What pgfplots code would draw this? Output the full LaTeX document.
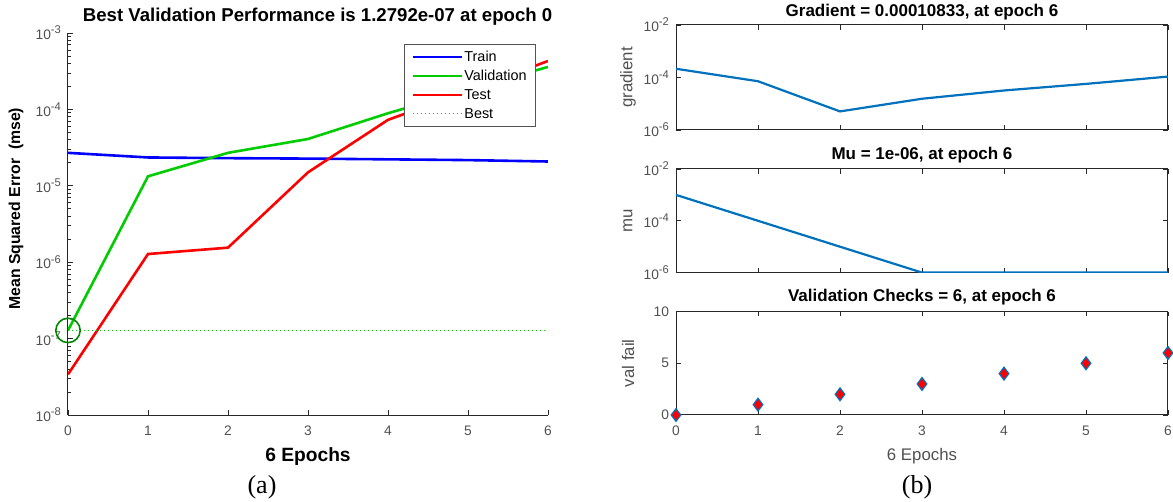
\documentclass[border=0pt]{standalone}
\usepackage{pgfplots}
\pgfplotsset{compat=1.18}
\usepackage{fontspec}
\setmainfont{Liberation Sans}
\newfontfamily\capfont{Liberation Serif}
\definecolor{mblue}{rgb}{0,0.447,0.741}
\definecolor{tickgray}{RGB}{80,80,80}
\definecolor{axgray}{RGB}{40,40,40}
\definecolor{valgreen}{RGB}{0,204,0}
\definecolor{bestgreen}{RGB}{0,135,0}
\newcommand{\ex}[1]{10\raisebox{0.42em}{\fontsize{5.6}{6}\selectfont #1}}

\pgfplotsset{
  common/.style={
    scale only axis,
    xmin=0, xmax=6,
    tick align=inside,
    major tick length=2.3pt,
    minor tick length=1.3pt,
    tick style={axgray, line width=0.4pt},
    ticklabel style={font=\fontsize{6.9}{8}\selectfont, text=tickgray},
    xticklabel style={yshift=-2pt},
    axis line style={axgray, line width=0.5pt},
  },
  rtitle/.style={every axis title/.style={font=\bfseries\fontsize{8.5}{9}\selectfont, at={(0.5,1)}, anchor=center, yshift=#1}},
  rylabel/.style={ylabel style={font=\fontsize{8.4}{9}\selectfont, text=tickgray, at={([xshift=-24pt]rel axis cs:0,0.5)}, anchor=center}},
}

\begin{document}
\begin{tikzpicture}
\useasboundingbox (0pt,0pt) rectangle (586.5pt,251pt);

% ---------------- (a) performance ----------------
\begin{axis}[common,
  at={(34pt,43.5pt)}, anchor=south west,
  width=240pt, height=191pt,
  ymode=log, ymin=1e-8, ymax=1e-3,
  axis x line*=bottom, axis y line*=left,
  axis line style={-},
  xtick={0,1,2,3,4,5,6}, xticklabels={0,1,2,3,4,5,6},
  ytick={1e-8,1e-7,1e-6,1e-5,1e-4,1e-3},
  yticklabels={\ex{-8},\ex{-7},\ex{-6},\ex{-5},\ex{-4},\ex{-3}},
  minor ytick={2e-8,3e-8,4e-8,5e-8,6e-8,7e-8,8e-8,9e-8,
               2e-7,3e-7,4e-7,5e-7,6e-7,7e-7,8e-7,9e-7,
               2e-6,3e-6,4e-6,5e-6,6e-6,7e-6,8e-6,9e-6,
               2e-5,3e-5,4e-5,5e-5,6e-5,7e-5,8e-5,9e-5,
               2e-4,3e-4,4e-4,5e-4,6e-4,7e-4,8e-4,9e-4},
  title={Best Validation Performance is 1.2792e-07 at epoch 0},
  every axis title/.style={font=\bfseries\fontsize{9.3}{10}\selectfont, at={(0.52,1)}, anchor=center, yshift=8pt},
  xlabel={6 Epochs},
  ylabel={Mean Squared Error\ \ (mse)},
  xlabel style={font=\bfseries\fontsize{9.6}{10}\selectfont, at={(rel axis cs:0.5,0)}, anchor=center, yshift=-21pt},
  ylabel style={font=\bfseries\fontsize{7.9}{9}\selectfont, at={([xshift=-26pt]rel axis cs:0,0.54)}, anchor=center},
  legend style={at={(0.974,0.971)}, anchor=north east, draw=axgray!80, line width=0.5pt,
    font=\fontsize{7.2}{8}\selectfont, row sep=2.4pt, inner xsep=3.5pt, inner ysep=2.6pt,
    nodes={inner sep=0.7pt, text height=5.2pt, text depth=0.5pt}},
  legend cell align=left,
  legend image code/.code={\draw[#1] (0pt,0pt) -- (24.5pt,0pt);},
]
\addplot[blue, line width=1.3pt] coordinates {(0,2.7e-5) (1,2.35e-5) (2,2.3e-5) (3,2.27e-5) (4,2.22e-5) (5,2.17e-5) (6,2.08e-5)};
\addlegendentry{Train}
\addplot[valgreen, line width=1.3pt] coordinates {(0,1.2792e-7) (1,1.33e-5) (2,2.7e-5) (3,4.1e-5) (4,8.9e-5) (5,1.8e-4) (6,3.6e-4)};
\addlegendentry{Validation}
\addplot[red, line width=1.3pt] coordinates {(0,3.4e-8) (1,1.28e-6) (2,1.55e-6) (3,1.5e-5) (4,7.3e-5) (5,1.75e-4) (6,4.3e-4)};
\addlegendentry{Test}
\addplot[valgreen, dash pattern=on 0.6pt off 1.4pt, line width=0.6pt] coordinates {(0,1.2792e-7) (6,1.2792e-7)};
\addlegendentry{Best}
\addplot[forget plot, only marks, mark=o, mark size=6.1pt, mark options={draw=bestgreen, line width=0.8pt}] coordinates {(0,1.2792e-7)};
\end{axis}

% ---------------- (b) gradient ----------------
\begin{axis}[common, rtitle=6.3pt, rylabel,
  at={(338pt,186pt)}, anchor=south west,
  width=246pt, height=52.5pt,
  ymode=log, ymin=1e-6, ymax=1e-2,
  xtick={0,1,2,3,4,5,6}, xticklabels={},
  ytick={1e-6,1e-4,1e-2},
  yticklabels={\ex{-6},\ex{-4},\ex{-2}},
  minor tick length=0pt,
  title={Gradient = 0.00010833, at epoch 6},
  ylabel={gradient},
]
\addplot[mblue, line width=1.1pt] coordinates {(0,2.15e-4) (1,7.2e-5) (2,5.1e-6) (3,1.55e-5) (4,3.2e-5) (5,5.7e-5) (6,1.0833e-4)};
\end{axis}

% ---------------- (b) mu ----------------
\begin{axis}[common, rtitle=7pt, rylabel,
  at={(338pt,114.7pt)}, anchor=south west,
  width=246pt, height=51.8pt,
  ymode=log, ymin=1e-6, ymax=1e-2,
  xtick={0,1,2,3,4,5,6}, xticklabels={},
  ytick={1e-6,1e-4,1e-2},
  yticklabels={\ex{-6},\ex{-4},\ex{-2}},
  minor tick length=0pt,
  title={Mu = 1e-06, at epoch 6},
  ylabel={mu},
]
\addplot[mblue, line width=1.1pt] coordinates {(0,1e-3) (1,1e-4) (2,1e-5) (3,1e-6) (4,1e-6) (5,1e-6) (6,1e-6)};
\end{axis}

% ---------------- (b) validation checks ----------------
\begin{axis}[common, rtitle=7pt, rylabel,
  at={(338pt,43.5pt)}, anchor=south west,
  width=246pt, height=51.7pt,
  ymin=0, ymax=10,
  xtick={0,1,2,3,4,5,6}, xticklabels={0,1,2,3,4,5,6},
  ytick={0,5,10}, yticklabels={0,5,10},
  title={Validation Checks = 6, at epoch 6},
  ylabel={val fail},
  xlabel={6 Epochs},
  xlabel style={font=\fontsize{8.4}{9}\selectfont, text=tickgray, at={(rel axis cs:0.5,0)}, anchor=center, yshift=-20.5pt},
  clip=false,
]
\addplot[only marks, mark=diamond*, mark size=3.2pt, mark options={fill=red, draw=mblue, line width=0.6pt}] coordinates {(0,0) (1,1) (2,2) (3,3) (4,4) (5,5) (6,6)};
\end{axis}

\node[font=\capfont\fontsize{13}{15}\selectfont] at (131pt,7.5pt) {(a)};
\node[font=\capfont\fontsize{13}{15}\selectfont] at (458.5pt,7.5pt) {(b)};
\end{tikzpicture}
\end{document}
